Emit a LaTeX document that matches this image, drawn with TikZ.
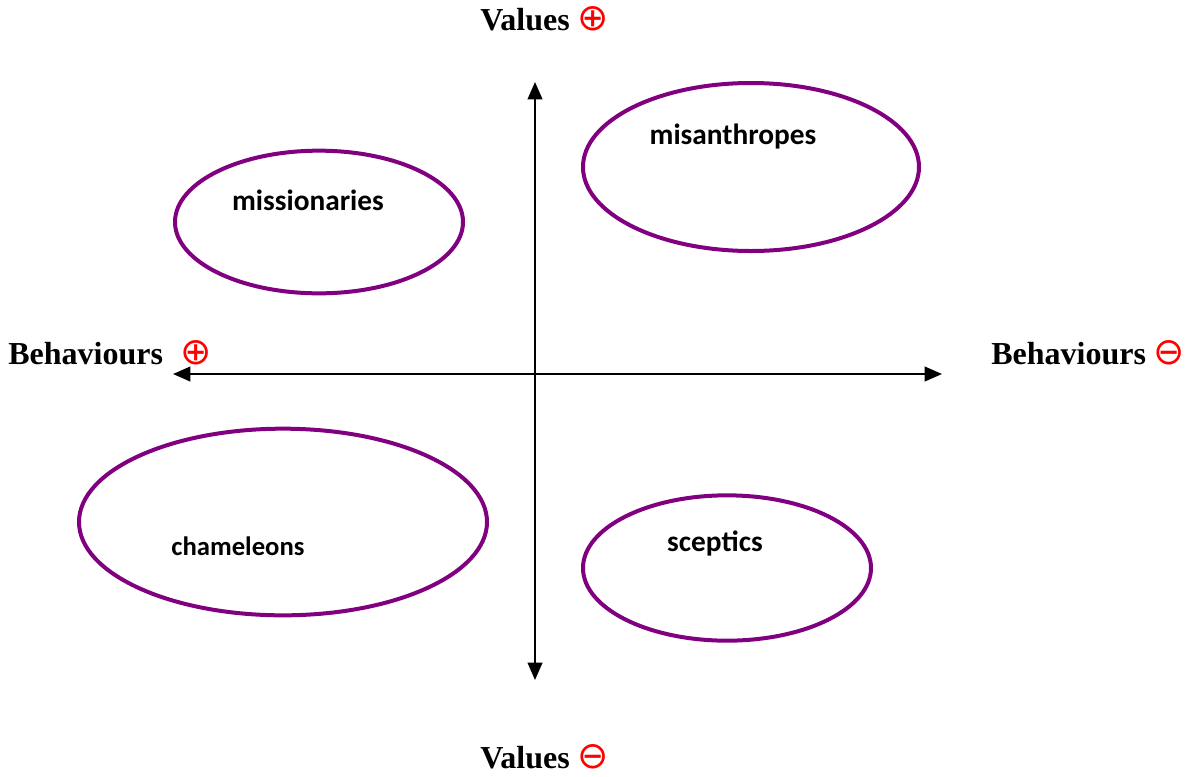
\documentclass[tikz,border=0pt]{standalone}
\usepackage{fontspec}
\usepackage{xcolor}
\usetikzlibrary{arrows.meta,shapes.geometric}
\setmainfont{Liberation Serif}
\newfontfamily\labelfont{Carlito}
\newfontfamily\symfont{DejaVu Sans}
\definecolor{grouppurple}{HTML}{800080}
\newcommand{\plussym}{\textcolor{red}{\symfont\mdseries\fontsize{28}{28}\selectfont ⊕}}
\newcommand{\minussym}{\textcolor{red}{\symfont\mdseries\fontsize{28}{28}\selectfont ⊖}}

\begin{document}
\begin{tikzpicture}[x=0.75pt,y=-0.75pt,
    axislabel/.style={font=\bfseries\fontsize{24}{26}\selectfont, inner sep=0pt},
    group/.style={ellipse, draw=grouppurple, line width=3pt, inner sep=0pt},
    grouplabel/.style={font=\labelfont\bfseries\fontsize{22}{24}\selectfont, inner sep=0pt},
    axis/.style={line width=1.5pt, {Triangle[length=13pt,width=11pt]}-{Triangle[length=13pt,width=11pt]}}]
  \useasboundingbox (0,0) rectangle (1189,776);

  % Axes
  \coordinate (vtop) at (535,82);
  \coordinate (vbot) at (535,680);
  \coordinate (hleft) at (173,374);
  \coordinate (hright) at (942,374);
  \draw[axis] (vbot) -- (vtop);
  \draw[axis] (hright) -- (hleft);

  % Axis labels
  \node[axislabel, anchor=base west] (valplus) at (480,30) {Values \plussym};
  \node[axislabel, anchor=base west] (valminus) at (480,768) {Values \minussym};
  \node[axislabel, anchor=base west] (behplus) at (8,364) {Behaviours\hspace{0.55em}\plussym};
  \node[axislabel, anchor=base west] (behminus) at (991,364) {Behaviours \minussym};

  % Groups
  \node[group, minimum width=216pt, minimum height=107pt] (missionaries) at (319,222) {};
  \node[group, minimum width=252pt, minimum height=126pt] (misanthropes) at (751,167) {};
  \node[group, minimum width=306pt, minimum height=140pt] (chameleons) at (283,522) {};
  \node[group, minimum width=216pt, minimum height=109pt] (sceptics) at (727,568) {};

  % Group labels
  \node[grouplabel] (lmissionaries) at (308,200) {missionaries};
  \node[grouplabel] (lmisanthropes) at (733,137) {misanthropes};
  \node[grouplabel, font=\labelfont\bfseries\fontsize{20}{22}\selectfont] (lchameleons) at (238,546) {chameleons};
  \node[grouplabel] (lsceptics) at (715,543) {sceptics};
\end{tikzpicture}
\end{document}
